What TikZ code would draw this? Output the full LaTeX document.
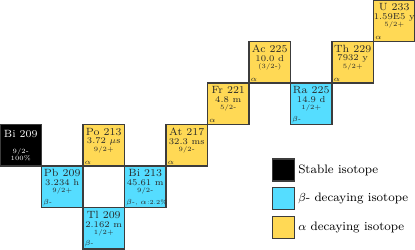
\documentclass[tikz,border=0pt]{standalone}
\usetikzlibrary{calc}
\definecolor{cyanB}{RGB}{85,221,255}
\definecolor{yelA}{RGB}{255,217,85}
\definecolor{edgeC}{RGB}{60,60,60}
\definecolor{txtC}{RGB}{40,40,40}
\tikzset{
  cell/.style={draw=edgeC,line width=0.8pt,minimum size=1cm,inner sep=0,outer sep=0,anchor=north west},
  stablecell/.style={cell,fill=black},
  betacell/.style={cell,fill=cyanB},
  alphacell/.style={cell,fill=yelA},
  ttl/.style={inner sep=0,text=txtC,font=\fontsize{7.2}{8}\selectfont},
  half/.style={inner sep=0,text=txtC,font=\fontsize{6}{7}\selectfont},
  spin/.style={inner sep=0,text=txtC,font=\fontsize{4.4}{5}\selectfont},
  mode/.style={inner sep=0,text=txtC,anchor=south west,font=\fontsize{4.2}{5}\selectfont},
  legbox/.style={draw=edgeC,line width=0.8pt,minimum size=0.53cm,inner sep=0,anchor=west},
  legtxt/.style={inner sep=0,anchor=west,font=\fontsize{8.4}{10}\selectfont}
}
\newcommand{\isocell}[7]{%
  \node[#2] (#1) at (#3,#4) {};
  \node[ttl] (#1t) at ($(#1.north)+(0,-0.17)$) {#5};
  \node[half] (#1h) at ($(#1.north)+(0,-0.41)$) {#6};
  \node[spin] (#1s) at ($(#1.north)+(0,-0.61)$) {#7};
}
\begin{document}
\begin{tikzpicture}
\useasboundingbox (0,0) rectangle (10,6);
% stable
\node[stablecell] (bi209) at (0,3) {};
\node[ttl,text=white] (bi209t) at ($(bi209.north)+(0,-0.22)$) {Bi 209};
\node[spin,text=white] (bi209s) at ($(bi209.north)+(0,-0.67)$) {9/2-};
\node[spin,text=white] (bi209a) at ($(bi209.north)+(0,-0.82)$) {100\%};
% cells
\isocell{pb209}{betacell}{1}{2}{Pb 209}{3.234 h}{9/2+}
\node[mode] (pb209m) at ($(pb209.south west)+(0.03,0.04)$) {$\beta$-};
\isocell{po213}{alphacell}{2}{3}{Po 213}{3.72 $\mu$s}{9/2+}
\node[mode] (po213m) at ($(po213.south west)+(0.03,0.04)$) {$\alpha$};
\isocell{tl209}{betacell}{2}{1}{Tl 209}{2.162 m}{1/2+}
\node[mode] (tl209m) at ($(tl209.south west)+(0.03,0.04)$) {$\beta$-};
\isocell{bi213}{betacell}{3}{2}{Bi 213}{45.61 m}{9/2-}
\node[mode] (bi213m) at ($(bi213.south west)+(0.03,0.04)$) {$\beta$-, $\alpha$:2.2\%};
\isocell{at217}{alphacell}{4}{3}{At 217}{32.3 ms}{9/2-}
\node[mode] (at217m) at ($(at217.south west)+(0.03,0.04)$) {$\alpha$};
\isocell{fr221}{alphacell}{5}{4}{Fr 221}{4.8 m}{5/2-}
\node[mode] (fr221m) at ($(fr221.south west)+(0.03,0.04)$) {$\alpha$};
\isocell{ac225}{alphacell}{6}{5}{Ac 225}{10.0 d}{(3/2-)}
\node[mode] (ac225m) at ($(ac225.south west)+(0.03,0.04)$) {$\alpha$};
\isocell{ra225}{betacell}{7}{4}{Ra 225}{14.9 d}{1/2+}
\node[mode] (ra225m) at ($(ra225.south west)+(0.03,0.04)$) {$\beta$-};
\isocell{th229}{alphacell}{8}{5}{Th 229}{7932 y}{5/2+}
\node[mode] (th229m) at ($(th229.south west)+(0.03,0.04)$) {$\alpha$};
\isocell{u233}{alphacell}{9}{6}{U 233}{1.59E5 y}{5/2+}
\node[mode] (u233m) at ($(u233.south west)+(0.03,0.04)$) {$\alpha$};
% legend
\node[legbox,fill=black] (lg1) at (6.55,1.905) {};
\node[legtxt] (lg1t) at (7.18,1.905) {Stable isotope};
\node[legbox,fill=cyanB] (lg2) at (6.55,1.215) {};
\node[legtxt] (lg2t) at (7.18,1.215) {$\beta$- decaying isotope};
\node[legbox,fill=yelA] (lg3) at (6.55,0.52) {};
\node[legtxt] (lg3t) at (7.18,0.52) {$\alpha$ decaying isotope};
\end{tikzpicture}
\end{document}
